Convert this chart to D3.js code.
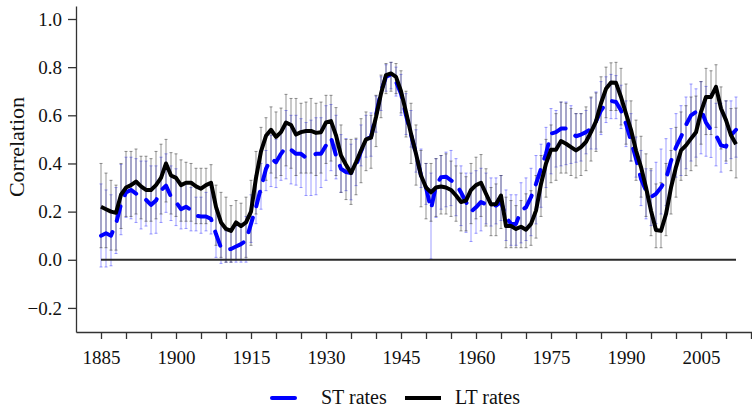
<!DOCTYPE html>
<html>
<head>
<meta charset="utf-8">
<script src="https://cdn.jsdelivr.net/npm/d3@7"></script>
<style>
  body { margin: 0; background: #fff; }
  svg { display: block; font-family: "Liberation Serif", "Times New Roman", serif; }
</style>
</head>
<body>
<div id="chart"></div>
<script>
// years covered by both series (annual)
var years = d3.range(1885, 2013);

// long-term rates correlation (solid black line)
var ltValues = [
  0.22, 0.21, 0.20, 0.195, 0.27, 0.30, 0.31, 0.325, 0.305, 0.29,
  0.29, 0.31, 0.34, 0.40, 0.35, 0.34, 0.31, 0.32, 0.32, 0.305,
  0.295, 0.31, 0.32, 0.22, 0.155, 0.128, 0.12, 0.155, 0.14, 0.155,
  0.20, 0.34, 0.45, 0.515, 0.54, 0.51, 0.53, 0.57, 0.56, 0.52,
  0.53, 0.535, 0.535, 0.527, 0.53, 0.57, 0.576, 0.517, 0.433, 0.395,
  0.36, 0.405, 0.454, 0.50, 0.507, 0.593, 0.69, 0.767, 0.774, 0.76,
  0.70, 0.614, 0.524, 0.44, 0.35, 0.30, 0.28, 0.30, 0.304, 0.30,
  0.29, 0.267, 0.24, 0.246, 0.29, 0.31, 0.32, 0.274, 0.23, 0.232,
  0.267, 0.14, 0.14, 0.128, 0.137, 0.125, 0.149, 0.204, 0.315, 0.40,
  0.457, 0.457, 0.493, 0.482, 0.468, 0.454, 0.468, 0.49, 0.53, 0.575,
  0.65, 0.71, 0.736, 0.735, 0.676, 0.607, 0.54, 0.454, 0.385, 0.30,
  0.204, 0.124, 0.12, 0.19, 0.30, 0.385, 0.454, 0.475, 0.503, 0.53,
  0.614, 0.676, 0.676, 0.718, 0.628, 0.58, 0.517, 0.48
];
var ltHi = [
  0.40, 0.36, 0.33, 0.31, 0.40, 0.45, 0.45, 0.46, 0.43, 0.43,
  0.42, 0.45, 0.48, 0.50, 0.445, 0.44, 0.415, 0.405, 0.40, 0.38,
  0.38, 0.38, 0.395, 0.31, 0.28, 0.26, 0.225, 0.246, 0.235, 0.26,
  0.33, 0.45, 0.55, 0.59, 0.635, 0.614, 0.63, 0.687, 0.67, 0.67,
  0.65, 0.655, 0.67, 0.65, 0.655, 0.683, 0.683, 0.632, 0.56, 0.50,
  0.50, 0.505, 0.586, 0.614, 0.60, 0.683, 0.767, 0.815, 0.82, 0.815,
  0.785, 0.70, 0.65, 0.56, 0.454, 0.40, 0.40, 0.42, 0.433, 0.44,
  0.41, 0.39, 0.36, 0.345, 0.40, 0.426, 0.437, 0.378, 0.30, 0.315,
  0.35, 0.26, 0.246, 0.225, 0.246, 0.274, 0.287, 0.35, 0.433, 0.50,
  0.56, 0.607, 0.655, 0.65, 0.628, 0.607, 0.607, 0.635, 0.676, 0.693,
  0.76, 0.80, 0.818, 0.82, 0.795, 0.73, 0.66, 0.58, 0.513, 0.44,
  0.378, 0.315, 0.32, 0.40, 0.454, 0.55, 0.614, 0.64, 0.676, 0.68,
  0.74, 0.795, 0.785, 0.81, 0.718, 0.66, 0.628, 0.63
];
var ltLo = [
  0.05, 0.05, 0.04, 0.04, 0.13, 0.18, 0.18, 0.19, 0.17, 0.16,
  0.16, 0.17, 0.19, 0.24, 0.19, 0.18, 0.16, 0.16, 0.16, 0.15,
  0.15, 0.15, 0.16, 0.06, 0.01, -0.01, -0.01, 0.00, 0.00, 0.01,
  0.06, 0.19, 0.28, 0.33, 0.36, 0.34, 0.35, 0.39, 0.38, 0.35,
  0.36, 0.36, 0.36, 0.35, 0.36, 0.40, 0.41, 0.35, 0.28, 0.25,
  0.23, 0.27, 0.32, 0.37, 0.38, 0.47, 0.59, 0.69, 0.70, 0.69,
  0.61, 0.51, 0.40, 0.31, 0.22, 0.17, 0.16, 0.18, 0.19, 0.19,
  0.18, 0.16, 0.12, 0.12, 0.15, 0.17, 0.18, 0.14, 0.10, 0.10,
  0.13, 0.05, 0.05, 0.05, 0.05, 0.05, 0.06, 0.09, 0.18, 0.26,
  0.32, 0.33, 0.36, 0.36, 0.35, 0.34, 0.35, 0.37, 0.41, 0.45,
  0.53, 0.59, 0.62, 0.62, 0.56, 0.48, 0.41, 0.33, 0.26, 0.18,
  0.10, 0.05, 0.05, 0.10, 0.19, 0.26, 0.33, 0.35, 0.37, 0.39,
  0.48, 0.52, 0.52, 0.55, 0.46, 0.41, 0.37, 0.34
];

// short-term rates correlation (dashed blue line)
var stValues = [
  0.10, 0.11, 0.10, 0.15, 0.23, 0.28, 0.29, 0.275, 0.257, 0.249,
  0.228, 0.246, 0.288, 0.308, 0.262, 0.24, 0.21, 0.22, 0.207, 0.183,
  0.18, 0.18, 0.17, 0.107, 0.05, 0.04, 0.045, 0.055, 0.065, 0.079,
  0.149, 0.218, 0.30, 0.378, 0.42, 0.405, 0.44, 0.468, 0.457, 0.44,
  0.44, 0.424, 0.43, 0.44, 0.44, 0.475, 0.507, 0.433, 0.378, 0.364,
  0.36, 0.39, 0.45, 0.50, 0.51, 0.60, 0.70, 0.76, 0.77, 0.74,
  0.69, 0.60, 0.52, 0.44, 0.35, 0.30, 0.21, 0.308, 0.343, 0.345,
  0.33, 0.315, 0.28, 0.24, 0.20, 0.218, 0.24, 0.23, 0.225, 0.225,
  0.24, 0.176, 0.15, 0.149, 0.204, 0.218, 0.26, 0.315, 0.378, 0.44,
  0.524, 0.53, 0.545, 0.545, 0.53, 0.513, 0.52, 0.53, 0.545, 0.575,
  0.62, 0.65, 0.66, 0.655, 0.62, 0.565, 0.495, 0.42, 0.336, 0.287,
  0.26, 0.274, 0.30, 0.336, 0.41, 0.468, 0.51, 0.56, 0.60, 0.614,
  0.624, 0.57, 0.54, 0.517, 0.475, 0.47, 0.517, 0.54
];
var stHi = [
  0.315, 0.29, 0.27, 0.30, 0.396, 0.426, 0.426, 0.42, 0.41, 0.41,
  0.39, 0.39, 0.426, 0.44, 0.39, 0.378, 0.315, 0.315, 0.30, 0.26,
  0.26, 0.28, 0.30, 0.21, 0.16, 0.12, 0.12, 0.14, 0.15, 0.18,
  0.27, 0.35, 0.40, 0.454, 0.517, 0.50, 0.53, 0.62, 0.60, 0.60,
  0.586, 0.57, 0.58, 0.59, 0.59, 0.64, 0.645, 0.60, 0.52, 0.503,
  0.48, 0.50, 0.56, 0.60, 0.61, 0.68, 0.76, 0.81, 0.82, 0.80,
  0.77, 0.69, 0.62, 0.54, 0.46, 0.40, 0.36, 0.42, 0.433, 0.447,
  0.454, 0.42, 0.39, 0.36, 0.36, 0.37, 0.38, 0.36, 0.34, 0.34,
  0.35, 0.29, 0.27, 0.27, 0.32, 0.34, 0.38, 0.433, 0.48, 0.55,
  0.628, 0.62, 0.655, 0.655, 0.64, 0.607, 0.607, 0.62, 0.672, 0.697,
  0.74, 0.76, 0.77, 0.765, 0.725, 0.66, 0.607, 0.51, 0.454, 0.378,
  0.37, 0.405, 0.46, 0.503, 0.545, 0.607, 0.64, 0.676, 0.73, 0.71,
  0.74, 0.72, 0.69, 0.65, 0.65, 0.66, 0.66, 0.676
];
var stLo = [
  -0.03, -0.03, -0.025, 0.026, 0.104, 0.176, 0.17, 0.155, 0.128, 0.14,
  0.107, 0.11, 0.155, 0.197, 0.163, 0.142, 0.128, 0.13, 0.12, 0.12,
  0.11, 0.12, 0.107, 0.01, -0.015, -0.01, -0.01, -0.01, -0.01, -0.01,
  0.072, 0.15, 0.21, 0.287, 0.304, 0.30, 0.33, 0.336, 0.315, 0.31,
  0.30, 0.267, 0.267, 0.27, 0.30, 0.33, 0.37, 0.336, 0.28, 0.287,
  0.249, 0.308, 0.39, 0.426, 0.43, 0.53, 0.62, 0.70, 0.71, 0.68,
  0.60, 0.52, 0.468, 0.364, 0.30, 0.23, 0.003, 0.176, 0.21, 0.22,
  0.225, 0.183, 0.142, 0.114, 0.076, 0.11, 0.12, 0.149, 0.14, 0.149,
  0.163, 0.08, 0.06, 0.06, 0.07, 0.08, 0.10, 0.149, 0.218, 0.30,
  0.357, 0.385, 0.39, 0.395, 0.40, 0.405, 0.41, 0.44, 0.46, 0.46,
  0.52, 0.57, 0.586, 0.586, 0.545, 0.47, 0.41, 0.343, 0.225, 0.17,
  0.142, 0.15, 0.19, 0.225, 0.30, 0.343, 0.35, 0.378, 0.41, 0.426,
  0.44, 0.43, 0.425, 0.39, 0.364, 0.40, 0.42, 0.426
];

// axis ticks
var xTicks = [1885, 1890, 1895, 1900, 1905, 1910, 1915, 1920, 1925, 1930, 1935, 1940, 1945,
  1950, 1955, 1960, 1965, 1970, 1975, 1980, 1985, 1990, 1995, 2000, 2005, 2010, 2015];
var xLabels = [1885, 1900, 1915, 1930, 1945, 1960, 1975, 1990, 2005];
var yTicks = [-0.2, 0, 0.2, 0.4, 0.6, 0.8, 1.0];

var seriesNames = ["ST rates", "LT rates"];

document.addEventListener('DOMContentLoaded', function drawChart() {
    var w = 752;
    var h = 409;

    var svg = d3.select("#chart")
        .append("svg")
        .attr("width", w)
        .attr("height", h);

    var xScale = d3.scaleLinear()
        .domain([1880, 2015.2])
        .range([76, 752]);

    var yScale = d3.scaleLinear()
        .domain([-0.3, 1.054])
        .range([332, 6]);

    var st = years.map(function(yr, i) {
        return { year: yr, v: stValues[i], lo: stLo[i], hi: stHi[i] };
    });
    var lt = years.map(function(yr, i) {
        return { year: yr, v: ltValues[i], lo: ltLo[i], hi: ltHi[i] };
    });

    // error bars with little caps
    function drawBars(data, cls, colour) {
        var g = svg.append("g").attr("class", cls)
            .attr("stroke", colour)
            .attr("stroke-width", 1);
        g.selectAll("line.bar")
            .data(data)
            .enter()
            .append("line")
            .attr("class", "bar")
            .attr("x1", d => xScale(d.year))
            .attr("x2", d => xScale(d.year))
            .attr("y1", d => yScale(d.lo))
            .attr("y2", d => yScale(d.hi));
        g.selectAll("line.capHi")
            .data(data)
            .enter()
            .append("line")
            .attr("class", "capHi")
            .attr("x1", d => xScale(d.year) - 1.5)
            .attr("x2", d => xScale(d.year) + 1.5)
            .attr("y1", d => yScale(d.hi))
            .attr("y2", d => yScale(d.hi));
        g.selectAll("line.capLo")
            .data(data)
            .enter()
            .append("line")
            .attr("class", "capLo")
            .attr("x1", d => xScale(d.year) - 1.5)
            .attr("x2", d => xScale(d.year) + 1.5)
            .attr("y1", d => yScale(d.lo))
            .attr("y2", d => yScale(d.lo));
    }

    drawBars(st, "st-bars", "rgba(40,40,255,0.45)");
    drawBars(lt, "lt-bars", "rgba(60,60,60,0.55)");

    // zero line
    svg.append("line")
        .attr("x1", xScale(years[0]))
        .attr("x2", xScale(years[years.length - 1]))
        .attr("y1", yScale(0))
        .attr("y2", yScale(0))
        .attr("stroke", "#2a2a2a")
        .attr("stroke-width", 2);

    var line = d3.line()
        .x(d => xScale(d.year))
        .y(d => yScale(d.v));

    svg.append("path")
        .datum(st)
        .attr("d", line)
        .attr("fill", "none")
        .attr("stroke", "#0000ff")
        .attr("stroke-width", 4)
        .attr("stroke-linecap", "round")
        .attr("stroke-linejoin", "round")
        .attr("stroke-dasharray", "15,12");

    svg.append("path")
        .datum(lt)
        .attr("d", line)
        .attr("fill", "none")
        .attr("stroke", "#000")
        .attr("stroke-width", 4)
        .attr("stroke-linejoin", "round");

    // axes
    var xAxis = d3.axisBottom(xScale)
        .tickValues(xTicks)
        .tickSize(7)
        .tickSizeOuter(0)
        .tickPadding(12)
        .tickFormat(d => xLabels.indexOf(d) >= 0 ? d : "");

    var yAxis = d3.axisLeft(yScale)
        .tickValues(yTicks)
        .tickSize(8)
        .tickSizeOuter(0)
        .tickPadding(6)
        .tickFormat(d3.format(".1f"));

    var gx = svg.append("g")
        .attr("class", "axis")
        .attr("transform", "translate(0,332)")
        .call(xAxis);

    var gy = svg.append("g")
        .attr("class", "axis")
        .attr("transform", "translate(76,0)")
        .call(yAxis);

    svg.selectAll(".axis path, .axis line")
        .attr("stroke", "#333")
        .attr("stroke-width", 1.3);
    svg.selectAll(".axis text")
        .attr("fill", "#111")
        .style("font-size", "19px")
        .style("font-family", "'Liberation Serif', serif");

    // y-axis title
    svg.append("text")
        .attr("transform", "translate(24,147) rotate(-90)")
        .attr("text-anchor", "middle")
        .attr("fill", "#111")
        .style("font-size", "22px")
        .text("Correlation");

    // legend
    var legend = svg.append("g").attr("class", "legend");
    legend.append("line")
        .attr("x1", 272).attr("x2", 295)
        .attr("y1", 398).attr("y2", 398)
        .attr("stroke", "#0000ff")
        .attr("stroke-width", 4)
        .attr("stroke-linecap", "round");
    legend.append("text")
        .attr("x", 321).attr("y", 404)
        .attr("fill", "#111")
        .style("font-size", "20px")
        .text(seriesNames[0]);
    legend.append("line")
        .attr("x1", 405).attr("x2", 441)
        .attr("y1", 398).attr("y2", 398)
        .attr("stroke", "#000")
        .attr("stroke-width", 4);
    legend.append("text")
        .attr("x", 455).attr("y", 404)
        .attr("fill", "#111")
        .style("font-size", "20px")
        .text(seriesNames[1]);
});
</script>
</body>
</html>
